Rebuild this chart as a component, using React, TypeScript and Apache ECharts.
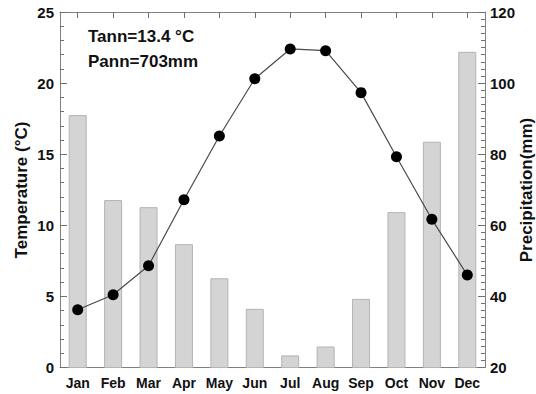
import React, { useEffect, useRef } from "react";
import * as echarts from "echarts";

const months = ["Jan", "Feb", "Mar", "Apr", "May", "Jun", "Jul", "Aug", "Sep", "Oct", "Nov", "Dec"];
const temperature = [4.06, 5.12, 7.16, 11.8, 16.28, 20.31, 22.4, 22.28, 19.33, 14.82, 10.42, 6.5];
const precipitation = [91, 67.1, 65.1, 54.7, 45.1, 36.5, 23.4, 25.9, 39.3, 63.7, 83.5, 108.8];
const tempTicks = { min: 0, max: 25, interval: 5 };
const precTicks = { min: 20, max: 120, interval: 20 };
const annotations = ["Tann=13.4 °C", "Pann=703mm"];
const axisTitles = { left: "Temperature (°C)", right: "Precipitation(mm)" };

const FONT = "'Liberation Sans', Arial, Helvetica, sans-serif";
const AXIS_COLOR = "#808080";
const TICK_COLOR = "#707070";

export default function App() {
  const ref = useRef<HTMLDivElement>(null);
  useEffect(() => {
    if (!ref.current) return;
    const chart = echarts.init(ref.current, undefined, { renderer: "svg" });
    chart.setOption({
      animation: false,
      backgroundColor: "#ffffff",
      textStyle: { fontFamily: FONT },
      grid: {
        left: 60,
        right: 51,
        top: 12,
        bottom: 26.5,
        show: false,
        containLabel: false,
        outerBoundsMode: "none",
      },
      xAxis: [
        {
          type: "category",
          data: months,
          position: "bottom",
          boundaryGap: true,
          axisLine: { show: true, lineStyle: { color: AXIS_COLOR } },
          axisTick: { show: false },
          axisLabel: { color: "#111", fontWeight: "bold", fontSize: 14, margin: 8, interval: 0, fontFamily: FONT },
          splitLine: { show: false },
        },
        {
          type: "category",
          data: months,
          position: "top",
          boundaryGap: true,
          axisLine: { show: true, lineStyle: { color: AXIS_COLOR } },
          axisTick: { show: true, alignWithLabel: true, interval: 0, length: -6, lineStyle: { color: TICK_COLOR } },
          axisLabel: { show: false, interval: 0 },
          splitLine: { show: false },
        },
      ],
      yAxis: [
        {
          type: "value",
          position: "left",
          min: tempTicks.min,
          max: tempTicks.max,
          interval: tempTicks.interval,
          axisLine: { show: true, lineStyle: { color: AXIS_COLOR } },
          axisTick: { show: true, length: -7, lineStyle: { color: TICK_COLOR } },
          minorTick: { show: true, splitNumber: 5, length: -4, lineStyle: { color: TICK_COLOR } },
          axisLabel: { color: "#111", fontWeight: "bold", fontSize: 15, margin: 6, fontFamily: FONT },
          splitLine: { show: false },
        },
        {
          type: "value",
          position: "right",
          min: precTicks.min,
          max: precTicks.max,
          interval: precTicks.interval,
          axisLine: { show: true, lineStyle: { color: AXIS_COLOR } },
          axisTick: { show: true, length: -7, lineStyle: { color: TICK_COLOR } },
          minorTick: { show: true, splitNumber: 10, length: -4, lineStyle: { color: TICK_COLOR } },
          axisLabel: { color: "#111", fontWeight: "bold", fontSize: 15, margin: 5, fontFamily: FONT },
          splitLine: { show: false },
        },
      ],
      series: [
        {
          name: "Precipitation",
          type: "bar",
          xAxisIndex: 0,
          yAxisIndex: 1,
          data: precipitation,
          barWidth: 18,
          itemStyle: { color: "#d4d4d4", borderColor: "#b4b4b4", borderWidth: 1 },
          z: 2,
        },
        {
          name: "Temperature",
          type: "line",
          xAxisIndex: 0,
          yAxisIndex: 0,
          data: temperature,
          symbol: "circle",
          symbolSize: 11,
          itemStyle: { color: "#000000" },
          lineStyle: { color: "#4a4a4a", width: 1.2 },
          z: 3,
        },
      ],
      graphic: [
        ...annotations.map((t, i) => ({
          type: "text",
          left: 88,
          top: 28 + i * 25,
          style: { text: t, fill: "#111", font: `bold 17px ${FONT}` },
        })),
        {
          type: "text",
          x: 21.5,
          y: 190,
          rotation: Math.PI / 2,
          style: { text: axisTitles.left, fill: "#111", font: `bold 17px ${FONT}`, align: "center", verticalAlign: "middle" },
        },
        {
          type: "text",
          x: 526,
          y: 190,
          rotation: Math.PI / 2,
          style: { text: axisTitles.right, fill: "#111", font: `bold 17px ${FONT}`, align: "center", verticalAlign: "middle" },
        },
      ],
    });
    return () => chart.dispose();
  }, []);
  return (
    <div style={{ position: "absolute", left: 0, top: 0, width: 536, height: 394 }}>
      <div ref={ref} style={{ width: 536, height: 394 }} />
    </div>
  );
}
